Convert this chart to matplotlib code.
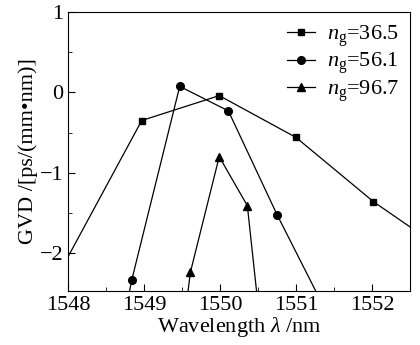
import matplotlib
matplotlib.use("Agg")
import matplotlib.pyplot as plt
from matplotlib.ticker import MultipleLocator

plt.rcParams['font.family'] = ['Liberation Serif', 'DejaVu Serif']
plt.rcParams['mathtext.fontset'] = 'custom'
plt.rcParams['mathtext.rm'] = 'Liberation Serif'
plt.rcParams['mathtext.it'] = 'Liberation Serif:italic'

# Data (end points lie outside the axes and only continue the lines)
wl_36 = [1547.5, 1548.97, 1549.99, 1551.0, 1552.02, 1553.0]
gvd_36 = [-2.92, -0.35, -0.04, -0.56, -1.36, -2.0]

wl_56 = [1548.72, 1548.84, 1549.47, 1550.11, 1550.75, 1551.5]
gvd_56 = [-2.9, -2.33, 0.075, -0.23, -1.52, -2.92]

wl_96 = [1549.55, 1549.61, 1549.99, 1550.36, 1550.53]
gvd_96 = [-2.7, -2.24, -0.80, -1.41, -2.9]

labels = ['$n_{\\mathrm{g}}$=36.5', '$n_{\\mathrm{g}}$=56.1', '$n_{\\mathrm{g}}$=96.7']

fig = plt.figure(figsize=(4.2, 3.45), dpi=100)
ax = fig.add_axes([0.162, 0.157, 0.814, 0.808])

lw = 0.9
ax.plot(wl_36, gvd_36, color='k', lw=lw, marker='s', ms=5, markevery=[1, 2, 3, 4], label=labels[0])
ax.plot(wl_56, gvd_56, color='k', lw=lw, marker='o', ms=5.5, markevery=[1, 2, 3, 4], label=labels[1])
ax.plot(wl_96, gvd_96, color='k', lw=lw, marker='^', ms=5.5, markevery=[1, 2, 3], label=labels[2])

ax.set_xlim(1548, 1552.5)
ax.set_ylim(-2.47, 1)
ax.xaxis.set_major_locator(MultipleLocator(1))
ax.xaxis.set_minor_locator(MultipleLocator(0.5))
ax.yaxis.set_major_locator(MultipleLocator(1))
ax.yaxis.set_minor_locator(MultipleLocator(0.5))
ax.tick_params(which='both', direction='in', labelsize=16, top=False, right=False)
ax.tick_params(which='major', length=5)
ax.tick_params(which='minor', length=3)

ax.set_xlabel('Wavelength $\\lambda$ /nm', fontsize=16, labelpad=0)
ax.set_ylabel('GVD /[ps/(mm\u2022nm)]', fontsize=16, labelpad=1)

ax.legend(loc='upper right', frameon=False, fontsize=16, handlelength=1.3,
          handletextpad=0.5, labelspacing=0.1, borderaxespad=0.1)

fig.savefig('out.png', dpi=100, facecolor='w')
